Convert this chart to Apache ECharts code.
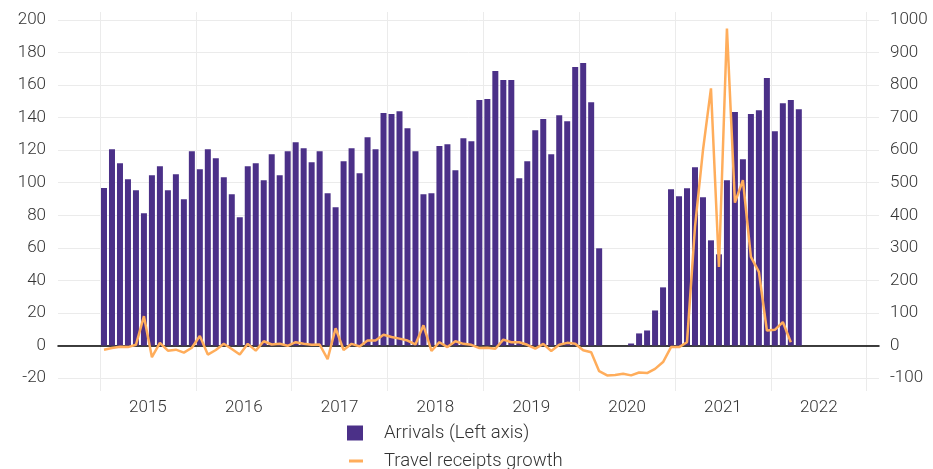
<!DOCTYPE html>
<html>
<head>
<meta charset="utf-8">
<script src="https://cdn.jsdelivr.net/npm/echarts@6/dist/echarts.min.js"></script>
<style>html,body{margin:0;padding:0;background:#fff}#c{width:933px;height:469px}</style>
</head>
<body>
<div id="c"></div>
<script>
// Monthly data, January 2015 onwards
const years = ['2015','2016','2017','2018','2019','2020','2021','2022'];
// Arrivals (left axis), Jan 2015 – Apr 2022
const arrivals = [
  96.8,120.6,112,102.2,95.4,81.2,104.6,110.2,95.4,105.2,89.8,119.4,
  108.3,120.6,115,103.4,92.9,78.8,110.2,112,101.5,117.5,104.6,119.4,
  124.9,121.2,112.6,119.4,93.5,84.9,113.2,121.2,105.8,128,120.6,142.8,
  142.2,144,133.5,119.4,92.9,93.5,122.5,123.7,107.7,127.4,125.5,150.8,
  151.4,168.6,163.1,163.1,102.8,113.2,132.3,139.1,117.5,141.5,137.8,171.1,
  173.5,149.5,59.7,null,null,null,1.2,7.4,9.2,21.5,35.7,96,
  91.7,96.6,109.5,91.1,64.6,56,101.5,143.4,114.5,142.2,144.6,164.3,
  131.7,148.9,150.8,145.2
];
// Travel receipts growth (right axis), Jan 2015 – Mar 2022
const receipts = [
  -13,-8,-4,-5,2,90,-36,8,-16,-13,-22,-7,
  29,-28,-14,5,-11,-28,5,-16,13,3,5,-1,
  10,5,2,3,-42,53,-14,5,-3,15,15,33,
  26,21,15,3,62,-17,10,-5,13,5,2,-8,
  -7,-10,18,10,10,2,-10,5,-17,2,8,5,
  -15,-21,-79,-92,-91,-87,-92,-83,-85,-72,-51,-5,
  -5,10,364,600,790,241,974,439,508,272,226,46,
  48,72,10
];
const leftTicks = {min:-20,max:200,interval:20};
const rightTicks = {min:-100,max:1000,interval:100};

const barData = arrivals.map((v,i)=>[i+0.5,v]);
const lineData = receipts.map((v,i)=>[i+0.5,v]);

const font = 'Roboto, "Noto Sans", sans-serif';
const labelStyle = {fontFamily:font,fontWeight:300,fontSize:17,color:'#333'};
const legendText = {fontFamily:font,fontWeight:300,fontSize:18.5,color:'#333',padding:[0,0,0,16]};
const chart = echarts.init(document.getElementById('c'), null, {renderer:'canvas'});
chart.setOption({
  animation:false,
  backgroundColor:'#ffffff',
  grid:[
    {left:58,right:54,top:20,bottom:91},
    {left:100,right:66.3,top:12,bottom:78}
  ],
  xAxis:[
    {type:'value',gridIndex:0,min:-5.26,max:97.54,
     axisLine:{show:true,onZero:true,onZeroAxisIndex:0,lineStyle:{color:'#000',width:1.5}},
     axisTick:{show:false},axisLabel:{show:false},splitLine:{show:false}},
    {type:'category',gridIndex:1,data:years,boundaryGap:true,
     axisLine:{show:false},axisTick:{show:false},
     axisLabel:Object.assign({margin:8},labelStyle),
     splitLine:{show:true,interval:0,lineStyle:{color:'#ebebeb',width:1}}}
  ],
  yAxis:[
    {type:'value',gridIndex:0,position:'left',min:leftTicks.min,max:leftTicks.max,interval:leftTicks.interval,
     axisLine:{show:false},axisTick:{show:false},
     axisLabel:Object.assign({margin:12,formatter:v=>String(v)},labelStyle),
     splitLine:{show:true,lineStyle:{color:'#ebebeb',width:1}}},
    {type:'value',gridIndex:0,position:'right',min:rightTicks.min,max:rightTicks.max,interval:rightTicks.interval,
     axisLine:{show:false},axisTick:{show:false},
     axisLabel:Object.assign({margin:11,formatter:v=>String(v)},labelStyle),
     splitLine:{show:false}},
    {type:'value',gridIndex:1,show:false,min:0,max:1}
  ],
  legend:[
    {orient:'vertical',left:342,top:418.5,itemWidth:16,itemHeight:15,
     textStyle:legendText,
     data:[{name:'Arrivals (Left axis)',icon:'rect'}]},
    {orient:'vertical',left:344,top:446.5,itemWidth:14,itemHeight:3,
     textStyle:legendText,
     data:[{name:'Travel receipts growth',icon:'rect',itemStyle:{color:'#ffad5b'}}]}
  ],
  series:[
    {name:'Arrivals (Left axis)',type:'bar',xAxisIndex:0,yAxisIndex:0,data:barData,barWidth:6,
     itemStyle:{color:'#4b3088'},z:2},
    {name:'Travel receipts growth',type:'line',xAxisIndex:0,yAxisIndex:1,data:lineData,
     showSymbol:false,symbol:'none',lineStyle:{color:'#ffad5b',width:2.5},itemStyle:{color:'#ffad5b'},z:3}
  ]
});
</script>
</body>
</html>
